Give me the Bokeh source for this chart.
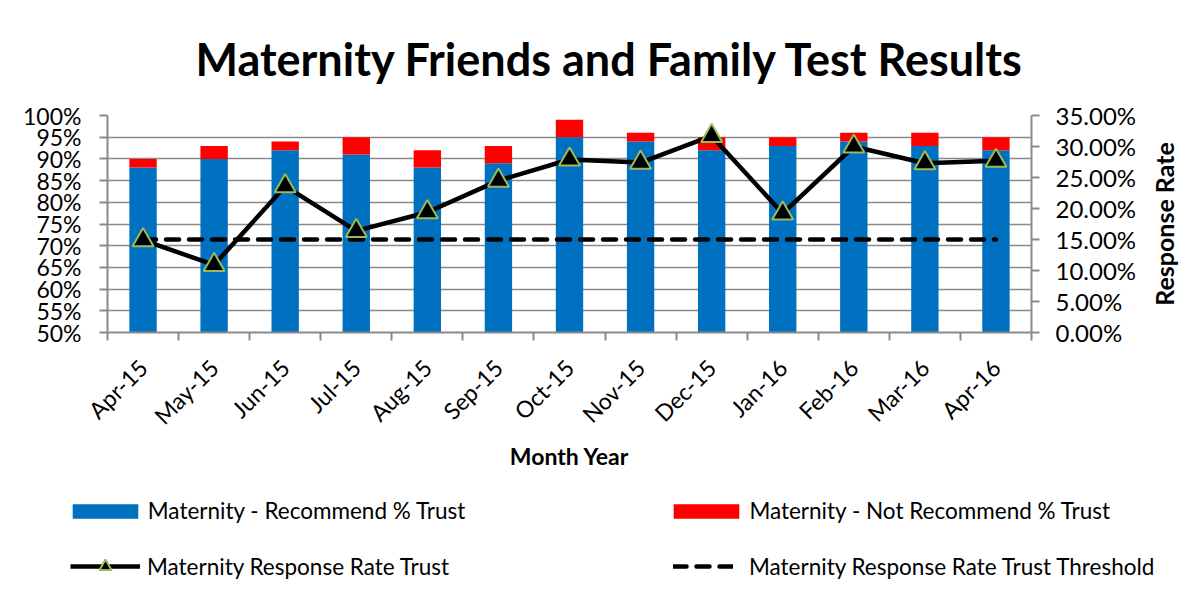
import math
from bokeh.plotting import figure
from bokeh.layouts import row
from bokeh.models import (ColumnDataSource, Range1d, LinearAxis, FixedTicker,
                          NumeralTickFormatter, Legend, LegendItem)
from bokeh.embed import file_html
from bokeh.resources import INLINE

months = ["Apr-15", "May-15", "Jun-15", "Jul-15", "Aug-15", "Sep-15", "Oct-15",
          "Nov-15", "Dec-15", "Jan-16", "Feb-16", "Mar-16", "Apr-16"]
recommend = [0.88, 0.90, 0.92, 0.91, 0.88, 0.89, 0.95, 0.94, 0.92, 0.93, 0.94, 0.93, 0.92]
not_recommend = [0.02, 0.03, 0.02, 0.04, 0.04, 0.04, 0.04, 0.02, 0.03, 0.02, 0.02, 0.03, 0.03]
response_rate = [0.149, 0.109, 0.236, 0.164, 0.194, 0.245, 0.279, 0.274, 0.317, 0.192, 0.300, 0.273, 0.277]
threshold = [0.15] * 13
left_ticks = [0.50, 0.55, 0.60, 0.65, 0.70, 0.75, 0.80, 0.85, 0.90, 0.95, 1.00]
right_ticks = [0.0, 0.05, 0.10, 0.15, 0.20, 0.25, 0.30, 0.35]

FONT = "Lato"
BLUE = "#0070C0"
RED = "#FF0000"
GRID = "#8a8a8a"
TRI_EDGE = "#9BBB59"

W = 1187
W_MAIN = 1145
H1 = 480
H2 = 109

xs = list(range(len(months)))
src = ColumnDataSource(dict(x=xs, rec=recommend, notrec=not_recommend,
                            rr=response_rate, thr=threshold))

p = figure(width=W_MAIN, height=H1, output_backend="svg", toolbar_location=None,
           x_range=Range1d(-0.5, len(months) - 0.5), y_range=Range1d(0.5, 1.0),
           min_border_left=107, min_border_right=W_MAIN - 1031, min_border_top=115,
           min_border_bottom=H1 - 332)
p.extra_y_ranges = {"rr": Range1d(0, 0.35)}
p.outline_line_color = None
p.background_fill_color = "white"
p.border_fill_color = "white"

p.title.text = "Maternity Friends and Family Test Results"
p.title.align = "left"
p.title.offset = 88
p.title.text_font = FONT
p.title.text_font_size = "45px"
p.title.text_font_style = "bold"
p.title.text_color = "black"
p.title.standoff = 59


def draw_series(fig, **kw):
    b = fig.vbar_stack(["rec", "notrec"], x="x", width=0.385, color=[BLUE, RED], source=src,
                       line_color=None)
    t = fig.line("x", "thr", source=src, line_color="black", line_width=4.5,
                 line_dash="13 10", line_cap="round", **kw)
    l = fig.line("x", "rr", source=src, line_color="black", line_width=4.5, **kw)
    s = fig.scatter("x", "rr", source=src, marker="triangle", size=21,
                    fill_color="black", line_color=TRI_EDGE, line_width=2, **kw)
    return b, t, l, s


draw_series(p, y_range_name="rr")

# x axis
xax = p.xaxis[0]
xax.ticker = FixedTicker(ticks=xs, minor_ticks=[i - 0.5 for i in range(len(months) + 1)])
xax.major_label_overrides = {i: m for i, m in enumerate(months)}
xax.major_label_orientation = math.pi / 4
xax.major_tick_out = 0
xax.major_tick_in = 0
xax.minor_tick_out = 8
xax.minor_tick_in = 0
xax.minor_tick_line_color = GRID
xax.minor_tick_line_width = 2
xax.axis_line_color = GRID
xax.axis_line_width = 2
xax.major_label_text_font = FONT
xax.major_label_text_font_size = "23px"
xax.major_label_text_color = "black"
xax.major_label_standoff = 23
xax.axis_label = "Month Year"
xax.axis_label_text_font = FONT
xax.axis_label_text_font_size = "23px"
xax.axis_label_text_font_style = "bold"
xax.axis_label_text_color = "black"
xax.axis_label_standoff = 0

# left axis
yt = FixedTicker(ticks=left_ticks)
yax = p.yaxis[0]
yax.ticker = yt
yax.formatter = NumeralTickFormatter(format="0%")
yax.major_tick_out = 8
yax.major_tick_in = 0
yax.minor_tick_out = 0
yax.major_tick_line_color = GRID
yax.major_tick_line_width = 2
yax.axis_line_color = GRID
yax.axis_line_width = 2
yax.major_label_text_font = FONT
yax.major_label_text_font_size = "23px"
yax.major_label_text_color = "black"
yax.major_label_standoff = 18

p.xgrid.visible = False
p.ygrid.ticker = yt
p.ygrid.grid_line_color = GRID
p.ygrid.grid_line_width = 1.6

# right axis (ticks and values)
rax = LinearAxis(y_range_name="rr", ticker=FixedTicker(ticks=right_ticks),
                 formatter=NumeralTickFormatter(format="0.00%"))
rax.major_tick_out = 8
rax.major_tick_in = 0
rax.minor_tick_out = 0
rax.major_tick_line_color = GRID
rax.major_tick_line_width = 2
rax.axis_line_color = GRID
rax.axis_line_width = 2
rax.major_label_text_font = FONT
rax.major_label_text_font_size = "24px"
rax.major_label_text_color = "black"
rax.major_label_standoff = 16
p.add_layout(rax, "right")

# narrow strip to the right carrying the secondary-axis title (reads bottom-to-top)
q = figure(width=W - W_MAIN, height=H1, output_backend="svg", toolbar_location=None,
           x_range=Range1d(0, 1), y_range=Range1d(0, 0.35), x_axis_type=None,
           min_border_left=0, min_border_right=0, min_border_top=115,
           min_border_bottom=H1 - 332)
q.outline_line_color = None
q.grid.visible = False
q.background_fill_color = "white"
q.border_fill_color = "white"
qa = q.yaxis[0]
qa.ticker = FixedTicker(ticks=[])
qa.axis_line_color = None
qa.major_tick_line_color = None
qa.minor_tick_line_color = None
qa.major_tick_out = 0
qa.minor_tick_out = 0
qa.axis_label = "Response Rate"
qa.axis_label_text_font = FONT
qa.axis_label_text_font_size = "25px"
qa.axis_label_text_font_style = "bold"
qa.axis_label_text_color = "black"
qa.axis_label_standoff = 4

# legend strip (its glyphs use the same data, placed outside its visible range)
lf = figure(width=W, height=H2, output_backend="svg", toolbar_location=None,
            x_range=Range1d(100, 101), y_range=Range1d(100, 101),
            x_axis_type=None, y_axis_type=None,
            min_border_left=0, min_border_right=0, min_border_top=0, min_border_bottom=0)
lf.outline_line_color = None
lf.grid.visible = False
lf.background_fill_color = "white"
lf.border_fill_color = "white"
lbars, lthr, lline, lpts = draw_series(lf)


def add_leg(label, renderers, left, bottom, gw, gh, standoff):
    leg = Legend(items=[LegendItem(label=label, renderers=renderers)],
                 location=(left, bottom),
                 glyph_width=gw, glyph_height=gh, label_height=gh, label_width=10,
                 label_standoff=standoff, padding=0, margin=0, spacing=0,
                 border_line_color=None, background_fill_alpha=0,
                 label_text_font=FONT, label_text_font_size="22.5px", label_text_color="black")
    lf.add_layout(leg, "center")


add_leg("Maternity - Recommend % Trust", [lbars[0]], 63.8, 65, 82, 18, 2)
add_leg("Maternity - Not Recommend % Trust", [lbars[1]], 665.4, 65, 82, 18, 2)
add_leg("Maternity Response Rate Trust", [lline, lpts], 70, 8, 70, 30, 7)
add_leg("Maternity Response Rate Trust Threshold", [lthr], 673, 8, 60, 30, 16)

top = row(p, q, spacing=0)
open("out.html", "w").write(file_html([top, lf], INLINE))
